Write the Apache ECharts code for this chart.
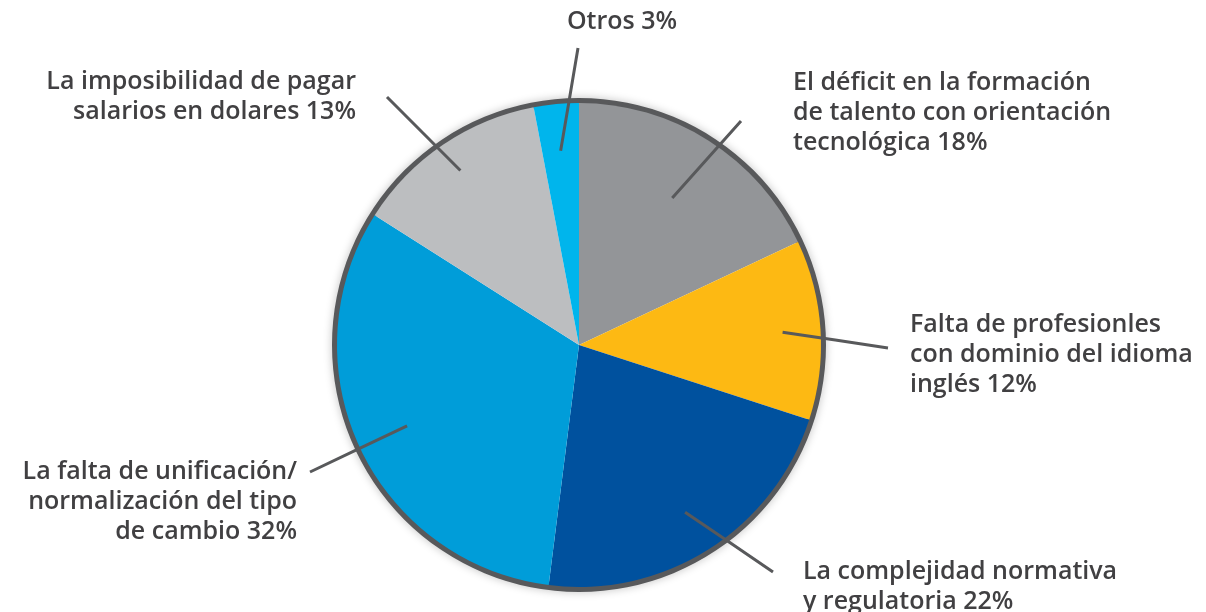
<!DOCTYPE html>
<html>
<head>
<meta charset="utf-8">
<script src="https://cdn.jsdelivr.net/npm/echarts@6/dist/echarts.min.js"></script>
<style>
	html, body { margin: 0; padding: 0; background: #fff; }
	#chartmain { width: 1206px; height: 612px; }
</style>
</head>
<body>
<div id="chartmain"></div>
<script>
	// datos del gráfico
	var names = [
		'El déficit en la formación\nde talento con orientación\ntecnológica',
		'Falta de profesionles\ncon dominio del idioma\ninglés',
		'La complejidad normativa\ny regulatoria',
		'La falta de unificación/\nnormalización del tipo\nde cambio',
		'La imposibilidad de pagar\nsalarios en dolares',
		'Otros'
	];
	var values = [18, 12, 22, 32, 13, 3];
	var colors = ['#939598', '#FDB913', '#00519E', '#009DD9', '#BCBEC0', '#00B5EC'];

	// posición de etiquetas: radio interior de la línea, fin de la línea, texto
	var labelPos = [
		{ r: 174, ex: 741, ey: 121, tx: 793, ty: 113, align: 'left' },
		{ r: 204, ex: 888, ey: 348, tx: 910, ty: 355, align: 'left' },
		{ r: 198, ex: 773, ey: 572, tx: 803, ty: 587, align: 'left' },
		{ r: 190, ex: 310, ey: 472, tx: 297, ty: 502, align: 'right' },
		{ r: 211, ex: 387, ey: 97, tx: 356, ty: 97, align: 'right' },
		{ r: 195, ex: 578, ey: 48, tx: 622, ty: 22, align: 'center' }
	];

	var cx = 579, cy = 345;
	var total = 0;
	for (var i = 0; i < values.length; i++) total += values[i];

	var pieData = [];
	var labelData = [];
	for (var i = 0; i < values.length; i++) {
		pieData.push({
			name : names[i],
			value : values[i],
			itemStyle : { color : colors[i] }
		});
		labelData.push({
			name : names[i],
			value : values[i]
		});
	}

	var option = {
		animation : false,
		series : [ {
			// borde exterior
			type : 'pie',
			z : 1,
			silent : true,
			center : [cx, cy],
			radius : [240, 247],
			startAngle : 90,
			label : { show : false },
			labelLine : { show : false },
			itemStyle : {
				color : '#58595B',
				shadowBlur : 8,
				shadowColor : 'rgba(0,0,0,0.25)'
			},
			data : [ { name : 'borde', value : total } ]
		}, {
			type : 'pie',
			z : 2,
			silent : true,
			center : [cx, cy],
			radius : 242,
			startAngle : 90,
			label : { show : false },
			labelLine : { show : false },
			data : pieData
		}, {
			// etiquetas y líneas encima
			type : 'pie',
			z : 3,
			silent : true,
			center : [cx, cy],
			radius : 242,
			startAngle : 90,
			avoidLabelOverlap : false,
			itemStyle : { color : 'rgba(0,0,0,0)' },
			label : {
				show : true,
				position : 'outside',
				formatter : function(p) { return p.name + ' ' + p.value + '%'; },
				fontFamily : 'Open Sans',
				fontWeight : 600,
				fontSize : 25,
				lineHeight : 30,
				color : '#414042'
			},
			labelLine : {
				show : true,
				length : 40,
				length2 : 0,
				lineStyle : { color : '#58595B', width : 3 }
			},
			labelLayout : function(params) {
				var lp = labelPos[params.dataIndex];
				var p0 = params.labelLinePoints[0];
				var dx = p0[0] - cx, dy = p0[1] - cy;
				var d = Math.sqrt(dx * dx + dy * dy);
				var sx = cx + dx / d * lp.r, sy = cy + dy / d * lp.r;
				return {
					x : lp.tx,
					y : lp.ty,
					align : lp.align,
					verticalAlign : 'middle',
					labelLinePoints : [[sx, sy], [(sx + lp.ex) / 2, (sy + lp.ey) / 2], [lp.ex, lp.ey]]
				};
			},
			data : labelData
		} ]
	};
	var myChart = echarts.init(document.getElementById('chartmain'));
	myChart.setOption(option);
</script>
</body>
</html>
